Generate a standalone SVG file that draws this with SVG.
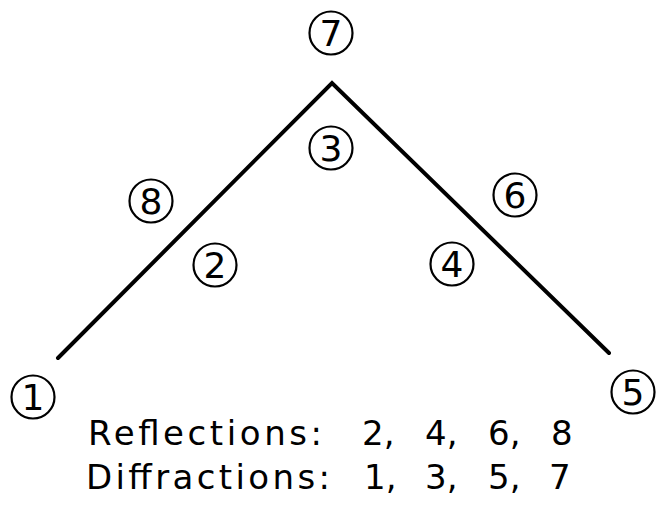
<svg xmlns="http://www.w3.org/2000/svg" width="664" height="510" viewBox="0 0 664 510">
<style>
.c{fill:none;stroke:#000;stroke-width:2.2}
.n{font-family:"DejaVu Sans","Liberation Sans",sans-serif;font-size:36px;text-anchor:middle;fill:#000}
.t{font-family:"DejaVu Sans","Liberation Sans",sans-serif;font-size:34px;fill:#000}
.w{fill:none;stroke:#000;stroke-width:4;stroke-linecap:round;stroke-linejoin:miter}
</style>
<rect width="664" height="510" fill="#fff"/>
<g id="connectors">
<polyline class="w" points="58,358 332,83 609,353"/>
</g>
<g id="n7"><circle class="c" cx="331" cy="33" r="21.5"/><text class="n" x="331" y="46">7</text></g>
<g id="n3"><circle class="c" cx="331" cy="148" r="21.5"/><text class="n" x="331" y="161">3</text></g>
<g id="n8"><circle class="c" cx="151" cy="201" r="21.5"/><text class="n" x="151" y="214">8</text></g>
<g id="n2"><circle class="c" cx="215" cy="265" r="21.5"/><text class="n" x="215" y="278">2</text></g>
<g id="n4"><circle class="c" cx="452" cy="264" r="21.5"/><text class="n" x="452" y="277">4</text></g>
<g id="n6"><circle class="c" cx="515" cy="195" r="21.5"/><text class="n" x="515" y="208">6</text></g>
<g id="n1"><circle class="c" cx="33" cy="397" r="21.5"/><text class="n" x="33" y="410">1</text></g>
<g id="n5"><circle class="c" cx="633" cy="392" r="21.5"/><text class="n" x="633" y="405">5</text></g>
<g id="legend">
<text class="t" x="88" y="445" textLength="234" lengthAdjust="spacing">Reflections:</text>
<text class="t" x="362" y="445">2,</text>
<text class="t" x="425" y="445">4,</text>
<text class="t" x="488" y="445">6,</text>
<text class="t" x="551" y="445">8</text>
<text class="t" x="86" y="489" textLength="244" lengthAdjust="spacing">Diffractions:</text>
<text class="t" x="364" y="489">1,</text>
<text class="t" x="425" y="489">3,</text>
<text class="t" x="488" y="489">5,</text>
<text class="t" x="549" y="489">7</text>
</g>
</svg>
